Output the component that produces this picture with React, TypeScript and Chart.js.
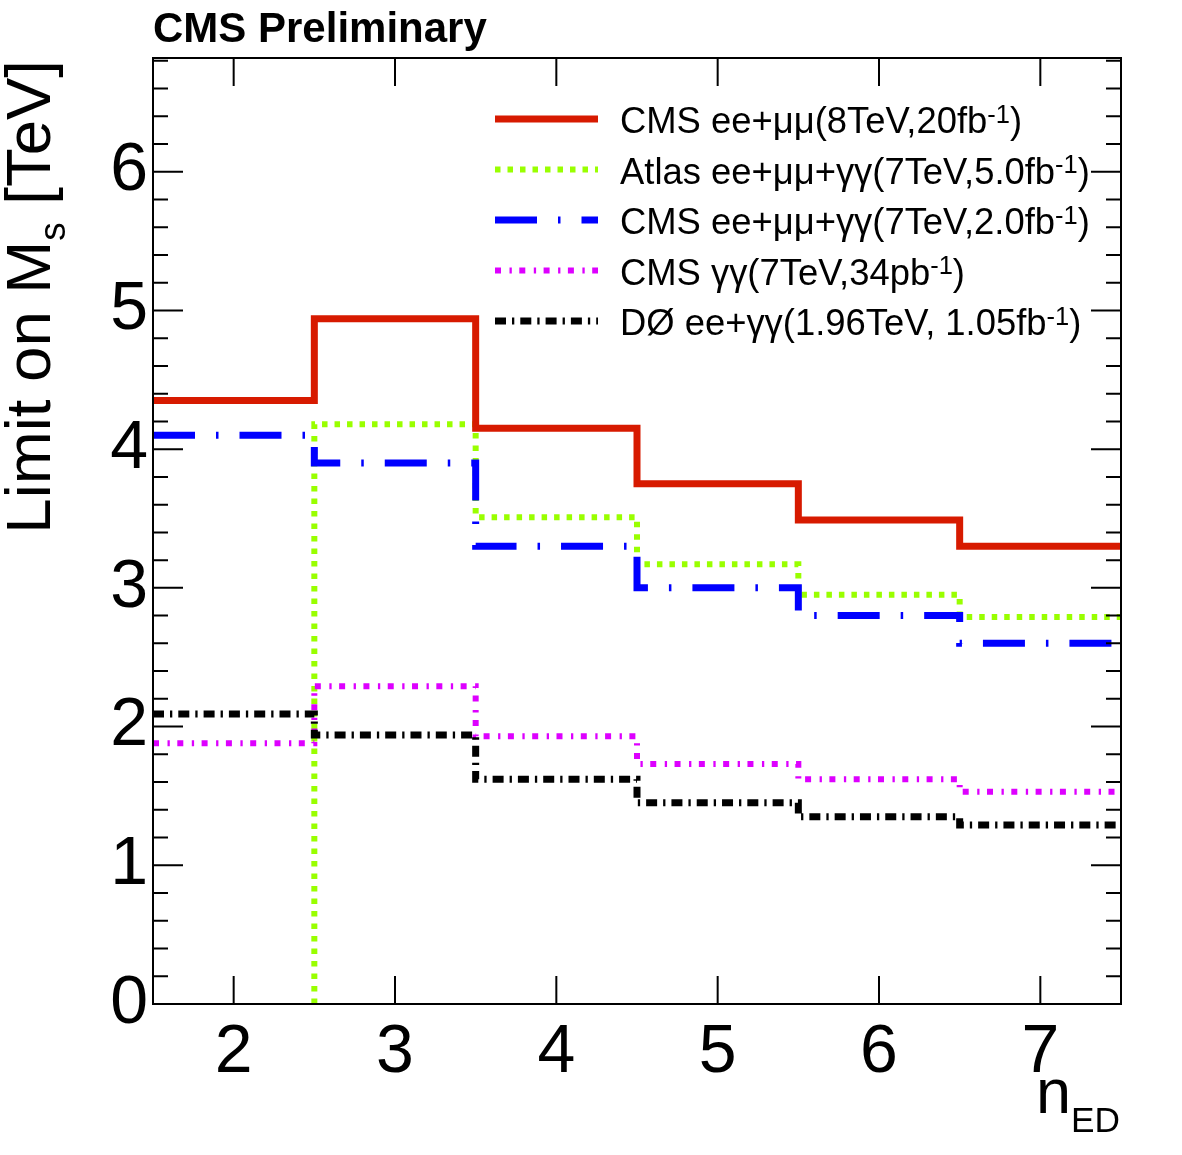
import { useEffect, useRef } from 'react';
import { Chart, registerables } from 'chart.js';

Chart.register(...registerables);

// bins of the number of extra dimensions
const nED = [2, 3, 4, 5, 6, 7];

// lower limits on M_s in TeV, one value per bin
const cms8TeV = [4.35, 4.94, 4.15, 3.75, 3.49, 3.3];
const atlas7TeV = [0, 4.18, 3.51, 3.17, 2.95, 2.79];
const cms7TeV = [4.1, 3.9, 3.3, 3.0, 2.8, 2.6];
const cmsDiphoton = [1.88, 2.29, 1.93, 1.73, 1.62, 1.53];
const d0Tevatron = [2.09, 1.94, 1.62, 1.45, 1.35, 1.29];

const seriesLabels = [
  'CMS ee+μμ(8TeV,20fb^{-1})',
  'Atlas ee+μμ+γγ(7TeV,5.0fb^{-1})',
  'CMS ee+μμ+γγ(7TeV,2.0fb^{-1})',
  'CMS γγ(7TeV,34pb^{-1})',
  'DØ ee+γγ(1.96TeV, 1.05fb^{-1})',
];

const xTicks = [2, 3, 4, 5, 6, 7];
const yTicks = [0, 1, 2, 3, 4, 5, 6];
const xMin = 1.5;
const xMax = 7.5;
const yMax = 6.82;

const FONT = '"Liberation Sans", Arial, Helvetica, sans-serif';

// histogram outline: left bin edges, stepped 'before', closing point on the last right edge
function steps(vals: number[]) {
  const pts: { x: number; y: number }[] = [];
  vals.forEach((v, i) => {
    const lo = nED[i] - 0.5;
    if (pts.length === 0 && v === 0) return; // empty bin: nothing along the axis
    if (pts.length === 0 && i > 0) pts.push({ x: lo, y: 0 });
    pts.push({ x: lo, y: v });
  });
  pts.push({ x: nED[nED.length - 1] + 0.5, y: vals[vals.length - 1] });
  return pts;
}

type Seg = { t: string; k: number };

// tiny ROOT-like latex: ^{..} superscript, _{..} subscript
function parseRich(s: string): Seg[] {
  const out: Seg[] = [];
  const re = /(\^|_)\{([^}]*)\}/g;
  let last = 0;
  let m: RegExpExecArray | null;
  while ((m = re.exec(s))) {
    if (m.index > last) out.push({ t: s.slice(last, m.index), k: 0 });
    out.push({ t: m[2], k: m[1] === '^' ? 1 : -1 });
    last = re.lastIndex;
  }
  if (last < s.length) out.push({ t: s.slice(last), k: 0 });
  return out;
}

function drawRich(
  ctx: CanvasRenderingContext2D,
  s: string,
  x: number,
  y: number,
  size: number,
  align: 'left' | 'right' = 'left',
  sub = { scale: 0.57, shift: 0.26 },
) {
  const segs = parseRich(s);
  const fontFor = (k: number) => {
    const sz = k === 0 ? size : k > 0 ? size * 0.7 : size * sub.scale;
    return `${sz}px ${FONT}`;
  };
  let total = 0;
  segs.forEach((g) => {
    ctx.font = fontFor(g.k);
    total += ctx.measureText(g.t).width;
  });
  let cx = align === 'right' ? x - total : x;
  ctx.textAlign = 'left';
  ctx.textBaseline = 'alphabetic';
  segs.forEach((g) => {
    ctx.font = fontFor(g.k);
    const dy = g.k === 0 ? 0 : g.k > 0 ? -size * 0.28 : size * sub.shift;
    ctx.fillText(g.t, cx, y + dy);
    cx += ctx.measureText(g.t).width;
  });
}

const rootFrame = {
  id: 'rootFrame',
  afterDraw(chart: any) {
    const { ctx, chartArea: a, scales } = chart;
    const x = scales.x;
    const y = scales.y;
    ctx.save();
    ctx.strokeStyle = '#000';
    ctx.lineWidth = 2;
    ctx.strokeRect(a.left, a.top, a.right - a.left, a.bottom - a.top);

    ctx.beginPath();
    xTicks.forEach((v) => {
      const px = x.getPixelForValue(v);
      ctx.moveTo(px, a.bottom);
      ctx.lineTo(px, a.bottom - 28);
      ctx.moveTo(px, a.top);
      ctx.lineTo(px, a.top + 28);
    });
    for (let k = 0; k * 0.2 <= yMax + 1e-9; k++) {
      const py = y.getPixelForValue(k * 0.2);
      const len = k % 5 === 0 ? 30 : 15;
      ctx.moveTo(a.left, py);
      ctx.lineTo(a.left + len, py);
      ctx.moveTo(a.right, py);
      ctx.lineTo(a.right - len, py);
    }
    ctx.stroke();

    // legend
    chart.data.datasets.forEach((ds: any, i: number) => {
      const rowY = 119 + i * 50.5;
      ctx.save();
      ctx.strokeStyle = ds.borderColor;
      ctx.lineWidth = ds.borderWidth;
      ctx.setLineDash(ds.borderDash || []);
      ctx.beginPath();
      ctx.moveTo(495, rowY);
      ctx.lineTo(598, rowY);
      ctx.stroke();
      ctx.restore();
      ctx.fillStyle = '#000';
      drawRich(ctx, ds.label, 620, rowY + 14, 36.4);
    });

    // titles
    ctx.fillStyle = '#000';
    ctx.font = `bold 42px ${FONT}`;
    ctx.textAlign = 'left';
    ctx.textBaseline = 'alphabetic';
    ctx.fillText('CMS Preliminary', 153, 42);

    drawRich(ctx, 'n_{ED}', 1120, 1113, 63, 'right', { scale: 0.56, shift: 0.3 });

    ctx.save();
    ctx.translate(50, 60);
    ctx.rotate(-Math.PI / 2);
    drawRich(ctx, 'Limit on M_{s} [TeV]', 0, 0, 63.5, 'right', { scale: 0.58, shift: 0.24 });
    ctx.restore();

    ctx.restore();
  },
};

export default function App() {
  const canvasRef = useRef<HTMLCanvasElement>(null);
  const chartRef = useRef<Chart | null>(null);

  useEffect(() => {
    document.body.style.margin = '0';
    if (!canvasRef.current) return;
    if (chartRef.current) chartRef.current.destroy();

    const series = [
      { label: seriesLabels[0], vals: cms8TeV, color: '#d71a00', width: 7, dash: [] as number[], order: 0 },
      { label: seriesLabels[1], vals: atlas7TeV, color: '#99ff00', width: 6, dash: [5.5, 7], order: 2 },
      { label: seriesLabels[2], vals: cms7TeV, color: '#0000ff', width: 7, dash: [42, 21, 2.5, 21], order: 1 },
      { label: seriesLabels[3], vals: cmsDiphoton, color: '#dd00ff', width: 6, dash: [6, 8.5, 2.3, 7.5], order: 1 },
      { label: seriesLabels[4], vals: d0Tevatron, color: '#000000', width: 7, dash: [11, 6, 2.3, 6], order: 0 },
    ];

    chartRef.current = new Chart(canvasRef.current, {
      type: 'line',
      data: {
        datasets: series.map((s) => ({
          label: s.label,
          data: steps(s.vals),
          borderColor: s.color,
          borderWidth: s.width,
          borderDash: s.dash,
          stepped: 'before' as const,
          pointRadius: 0,
          fill: false,
          order: s.order,
        })),
      },
      options: {
        animation: false,
        responsive: true,
        maintainAspectRatio: false,
        layout: { padding: { top: 58, right: 61, left: 0, bottom: 0 } },
        plugins: {
          legend: { display: false },
          tooltip: { enabled: false },
        },
        scales: {
          x: {
            type: 'linear',
            min: xMin,
            max: xMax,
            afterBuildTicks: (scale: any) => {
              scale.ticks = xTicks.map((v) => ({ value: v }));
            },
            afterFit: (scale: any) => {
              scale.height = 151;
            },
            grid: { display: false, drawTicks: false },
            border: { display: false },
            ticks: {
              padding: 8,
              color: '#000',
              autoSkip: false,
              maxRotation: 0,
              font: { family: FONT, size: 68 },
            },
          },
          y: {
            type: 'linear',
            min: 0,
            max: yMax,
            afterBuildTicks: (scale: any) => {
              scale.ticks = yTicks.map((v) => ({ value: v }));
            },
            afterFit: (scale: any) => {
              scale.width = 153;
            },
            grid: { display: false, drawTicks: false },
            border: { display: false },
            ticks: {
              padding: 5,
              color: '#000',
              autoSkip: false,
              font: { family: FONT, size: 68 },
            },
          },
        },
      },
      plugins: [rootFrame],
    });

    return () => {
      if (chartRef.current) {
        chartRef.current.destroy();
        chartRef.current = null;
      }
    };
  }, []);

  return (
    <div style={{ width: 1182, height: 1155, position: 'relative', background: '#fff' }}>
      <canvas ref={canvasRef} />
    </div>
  );
}
